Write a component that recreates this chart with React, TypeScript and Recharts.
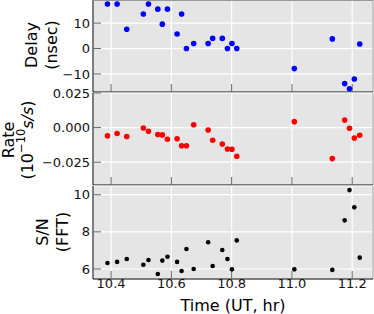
import React from 'react';
import { ScatterChart, Scatter, XAxis, YAxis, CartesianGrid, ReferenceLine } from 'recharts';

const times = [10.388, 10.42, 10.452, 10.507, 10.524, 10.555, 10.57, 10.587, 10.619, 10.634, 10.65, 10.674,
  10.722, 10.737, 10.769, 10.786, 10.801, 10.817, 11.008, 11.134, 11.175, 11.191, 11.207, 11.225];
const delay = [17.5, 17.5, 7.6, 13.6, 17.5, 15.5, 9.6, 15.5, 5.7, 13.6, 0, 2, 2, 4, 4, 0, 2, 0, -7.9, 3.8, -13.8, -15.8, -12, 1.8];
const rate = [-0.006, -0.0043, -0.0064, -0.0003, -0.0026, -0.005, -0.0053, -0.0084, -0.0081, -0.0131, -0.0131, 0.0021,
  -0.0017, -0.0091, -0.0119, -0.0155, -0.0157, -0.0207, 0.0043, -0.0224, 0.0054, -0.0005, -0.0076, -0.0055];
const snr = [6.32, 6.38, 6.54, 6.23, 6.48, 5.73, 6.45, 6.66, 6.38, 5.89, 7.08, 6.0, 7.44, 6.16, 7.02, 6.54, 5.98, 7.54,
  5.98, 5.95, 8.62, 10.25, 9.32, 6.61];

const xTicks = [10.4, 10.6, 10.8, 11.0, 11.2];
const delayTicks = [-10, 0, 10];
const rateTicks = [-0.025, 0, 0.025];
const snrTicks = [6, 8, 10];

const xDomain = [10.34, 11.269];
const rows = times.map((t, i) => ({ t, delay: delay[i], rate: rate[i], snr: snr[i] }));

const font = 'DejaVu Sans';
const minus = (s: string) => s.replace('-', '\u2212');

const dot = (color: string, r: number) => (p: any) => <circle cx={p.cx} cy={p.cy} r={r} fill={color} />;

function Panel({ h, xh, dataKey, domain, ticks, fmt, color, r, showX }: any) {
  return (
    <ScatterChart width={374} height={h} data={rows} margin={{ top: 0, right: 1, bottom: 0, left: 0 }}>
      <CartesianGrid fill="#e5e5e5" stroke="#fff" strokeWidth={1.2} />
      <XAxis dataKey="t" type="number" domain={xDomain} ticks={xTicks} interval={0} allowDataOverflow
        height={xh} stroke="#000" tickSize={-8} tickMargin={8}
        tickLine={{ stroke: '#666' }}
        tick={showX ? { fontSize: 13, fontFamily: font, fill: '#111' } : () => <g />}
        tickFormatter={(v: number) => v.toFixed(1)} />
      <YAxis dataKey={dataKey} type="number" domain={domain} ticks={ticks} interval={0} allowDataOverflow
        width={93} stroke="#000" tickSize={-8} tickMargin={11}
        tickLine={{ stroke: '#666' }}
        tick={{ fontSize: 13, fontFamily: font, fill: '#111' }}
        tickFormatter={fmt} />
      <ReferenceLine x={xDomain[1]} stroke="#999" />
      <Scatter data={rows} dataKey={dataKey} isAnimationActive={false} shape={dot(color, r)} />
    </ScatterChart>
  );
}

function VText({ x, y, children }: any) {
  return (
    <text x={x} y={y} transform={`rotate(-90 ${x} ${y})`} textAnchor="middle" dominantBaseline="central">{children}</text>
  );
}

export default function App() {
  return (
    <div style={{ position: 'absolute', left: 0, top: 0, width: 374, height: 314, background: '#fff' }}>
      <style>{'.recharts-surface{overflow:visible}'}</style>
      <Panel h={93} xh={1} dataKey="delay" domain={[-17.1, 19.1]} ticks={delayTicks}
        fmt={(v: number) => minus(String(v))} color="#0000ff" r={2.8} />
      <Panel h={93} xh={1} dataKey="rate" domain={[-0.0415, 0.025]} ticks={rateTicks}
        fmt={(v: number) => minus(v.toFixed(3))} color="#ff0000" r={2.8} />
      <Panel h={128} xh={35} dataKey="snr" domain={[5.46, 10.47]} ticks={snrTicks}
        fmt={(v: number) => String(v)} color="#000" r={2.3} showX />
      <svg width={374} height={314} style={{ position: 'absolute', left: 0, top: 0, pointerEvents: 'none' }}>
        <line x1={93} x2={373} y1={0.5} y2={0.5} stroke="#999" />
        <g fontFamily={font} fontSize={16} fill="#000">
          <VText x={31.7} y={45}>Delay</VText>
          <VText x={51.7} y={45}>(nsec)</VText>
          <VText x={8} y={140}>Rate</VText>
          <VText x={27} y={140}>
            (10<tspan fontSize={11.5} dy={-6}>{'\u221210'}</tspan><tspan dy={6} fontStyle="italic">s/s</tspan>)
          </VText>
          <VText x={42} y={232}>S/N</VText>
          <VText x={62} y={232}>(FFT)</VText>
          <text x={233} y={305} textAnchor="middle" dominantBaseline="central">Time (UT, hr)</text>
        </g>
      </svg>
    </div>
  );
}
